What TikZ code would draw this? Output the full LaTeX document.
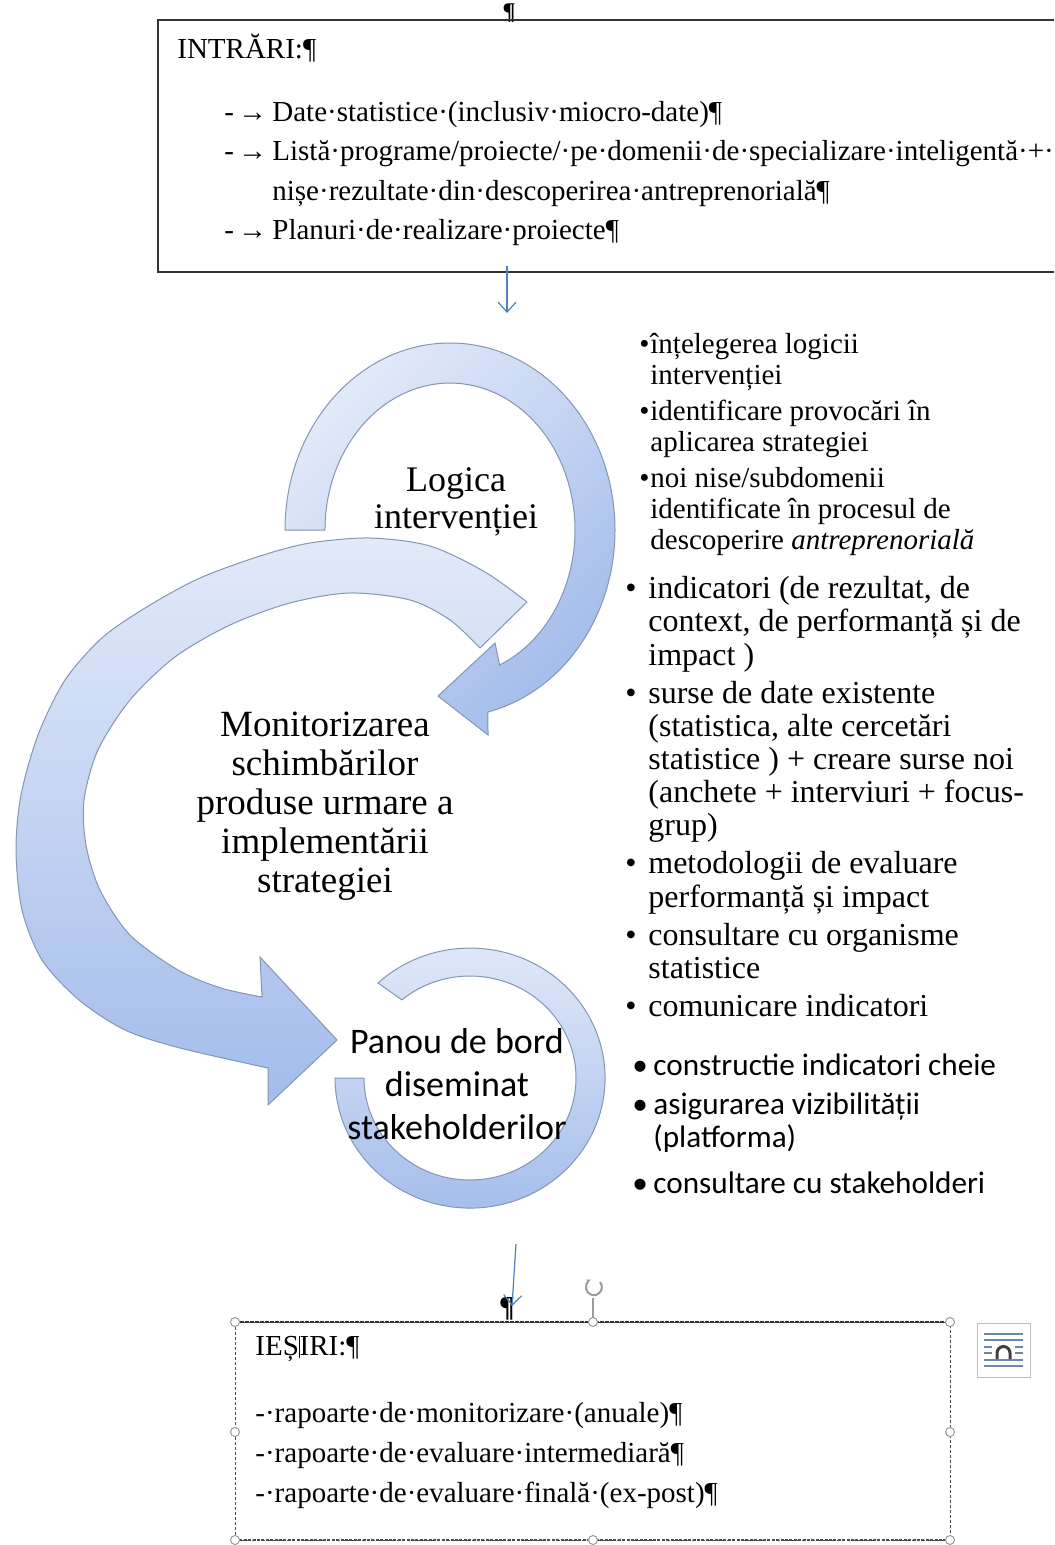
\documentclass[tikz,border=0pt]{standalone}
\usepackage{fontspec}
\setmainfont{Liberation Serif}
\newfontfamily\calibrifont{Carlito}
\usetikzlibrary{arrows.meta}
\definecolor{ringlight}{HTML}{E2EAF9}
\definecolor{ringdark}{HTML}{A3BCEB}
\definecolor{ringline}{HTML}{8595B3}
\definecolor{flowblue}{HTML}{4F81BD}
\definecolor{handlegray}{HTML}{9A9A9A}
\definecolor{iconblue}{HTML}{6A88AD}
\tikzset{
  ring/.style={draw=ringline, line width=0.5pt, top color=ringlight, bottom color=ringdark},
  flow/.style={draw=flowblue, line width=0.6pt, -{Straight Barb[length=5pt,width=9pt]}},
  handle/.style={circle, draw=handlegray, fill=white, line width=0.5pt, inner sep=0pt, minimum size=4.5pt},
  listbox/.style={anchor=north west, inner sep=0pt},
}
\begin{document}
\begin{tikzpicture}[x=0.5pt, y=-0.5pt]
    \pgfmathsetmacro{\boxleft}{158}
    \pgfmathsetmacro{\boxtop}{20}
    \pgfmathsetmacro{\boxbottom}{272}
    \providecommand{\boxfont}{\fontsize{14.5}{19.8}\selectfont}
    \providecommand{\ringfont}{\fontsize{18.5}{19.5}\selectfont}
    \providecommand{\notesfont}{\fontsize{14.5}{15.5}\selectfont}
    \providecommand{\listfont}{\fontsize{16}{16.6}\selectfont}
    \useasboundingbox (0,0) rectangle (1054,1545);
    % intrari
    \node[anchor=base, inner sep=0pt, font=\fontsize{12}{12}\selectfont\bfseries] (pilcrowtop) at (509,20) {¶};
    \draw[line width=1pt, black!80] (1054,\boxtop) -- (\boxleft,\boxtop) -- (\boxleft,\boxbottom) -- (1054,\boxbottom);
    \node[anchor=west, inner sep=0pt, font=\boxfont] (intrari) at (177,48) {INTRĂRI:¶};
    \node[listbox, font=\boxfont] (intrarilist) at (224,93) {\begin{tabular}{@{}l@{}}
        \makebox[24pt][l]{-\hspace{2pt}→}Date·statistice·(inclusiv·miocro-date)¶\\
        \makebox[24pt][l]{-\hspace{2pt}→}Listă·programe/proiecte/·pe·domenii·de·specializare·inteligentă·+·\\
        \makebox[24pt][l]{}nișe·rezultate·din·descoperirea·antreprenorială¶\\
        \makebox[24pt][l]{-\hspace{2pt}→}Planuri·de·realizare·proiecte¶
    \end{tabular}};
    \coordinate (intrariout) at (507,266);
    \coordinate (ringin) at (507,313);
    \draw[flow] (intrariout) -- (ringin);
    % monitorizare
    \draw[ring] plot[smooth] coordinates {(527,602) (485,572) (430,546) (370,538) (310,543) (260,556) (200,578) (150,605) (103,637) (65,680) (38,735) (21,795) (16,850) (22,910) (42,960) (79,1000) (125,1030) (180,1048) (268,1068)}
        -- (268,1105) -- (337,1040) -- (260,957) -- (262,997)
        -- plot[smooth] coordinates {(262,997) (221,988) (178,970) (130,935) (100,890) (86,845) (84,800) (98,750) (130,700) (175,657) (230,625) (290,603) (350,593) (410,600) (450,620) (480,648)} -- cycle;
    % logica
    \draw[ring, shading angle=45] (285,530) arc[start angle=180, end angle=436.7, x radius=165, y radius=187]
        -- (488,735) -- (438,696) -- (495,643) -- (499.6,665)
        arc[start angle=426.6, end angle=180, x radius=125, y radius=147] -- cycle;
    % panou
    \draw[ring] (378,983) arc[start angle=227, end angle=540, x radius=135, y radius=130]
        -- (364,1078) arc[start angle=540, end angle=230, x radius=106, y radius=102] -- cycle;
    \node[align=center, inner sep=0pt, font=\fontsize{18}{18.5}\selectfont] (logica) at (456,502) {Logica\\intervenției};
    \node[align=center, inner sep=0pt, font=\ringfont] (monitorizare) at (325,806) {Monitorizarea\\schimbărilor\\produse urmare a\\implementării\\strategiei};
    \node[align=center, inner sep=0pt, font=\calibrifont\fontsize{18}{21.5}\selectfont] (panou) at (457,1084) {Panou de bord\\diseminat\\stakeholderilor};
    % notes
    \node[listbox, font=\notesfont] (logicanotes) at (639,331) {\begin{tabular}{@{}p{5.5pt}@{}l@{}}
        •&înțelegerea logicii\\
        &intervenției\\[2.5pt]
        •&identificare provocări în\\
        &aplicarea strategiei\\[2.5pt]
        •&noi nise/subdomenii\\
        &identificate în procesul de\\
        &descoperire \textit{antreprenorială}
    \end{tabular}};
    \node[listbox, font=\listfont] (monitornotes) at (625,575) {\begin{tabular}{@{}p{11.5pt}@{}l@{}}
        •&indicatori (de rezultat, de\\
        &context, de performanță și de\\
        &impact )\\[2.4pt]
        •&surse de date existente\\
        &(statistica, alte cercetări\\
        &statistice ) + creare surse noi\\
        &(anchete + interviuri + focus-\\
        &grup)\\[2.4pt]
        •&metodologii de evaluare\\
        &performanță și impact\\[2.4pt]
        •&consultare cu organisme\\
        &statistice\\[2.4pt]
        •&comunicare indicatori
    \end{tabular}};
    \node[listbox, font=\calibrifont\fontsize{15.6}{16.5}\selectfont] (panounotes) at (632,1052) {\begin{tabular}{@{}p{10.5pt}@{}l@{}}
        •&constructie indicatori cheie\\[3pt]
        •&asigurarea vizibilității\\
        &(platforma)\\[6.5pt]
        •&consultare cu stakeholderi
    \end{tabular}};
    % iesiri
    \node[anchor=south, inner sep=0pt, font=\boxfont\bfseries] (pilcrowbottom) at (507,1321) {¶};
    \coordinate (panouout) at (516,1244);
    \coordinate (iesiriin) at (512,1306);
    \draw[flow] (panouout) -- (iesiriin);
    \draw[black!70, line width=0.5pt, dash pattern=on 1.5pt off 1pt] (235,1322) rectangle (950,1540);
    \draw[black!80, line width=1pt, dash pattern=on 2pt off 0.5pt] (235,1322) -- (950,1322);
    \draw[black!70, line width=0.8pt, dash pattern=on 1.5pt off 0.7pt] (235,1540) -- (950,1540);
    \draw[handlegray, line width=0.6pt] (593,1322) -- (593,1298);
    \draw[handlegray, line width=1pt, -{Stealth[length=2.5pt]}] (600,1282) arc[start angle=-40, end angle=250, radius=8];
    \foreach \hx/\hy [count=\i] in {235/1322, 593/1322, 950/1322, 235/1432, 950/1432, 235/1540, 593/1540, 950/1540}
        \node[handle] (handle\i) at (\hx,\hy) {};
    \node[anchor=west, inner sep=0pt, font=\boxfont] (iesiri) at (255,1349) {IEȘ\rule[-1pt]{0.4pt}{11pt}IRI:¶};
    \node[listbox, font=\fontsize{14.5}{20}\selectfont] (iesirilist) at (255,1394) {\begin{tabular}{@{}l@{}}
        -·rapoarte·de·monitorizare·(anuale)¶\\
        -·rapoarte·de·evaluare·intermediară¶\\
        -·rapoarte·de·evaluare·finală·(ex-post)¶
    \end{tabular}};
    % layout icon
    \draw[gray!50, fill=white, line width=0.5pt] (977,1323) rectangle (1030,1377);
    \foreach \ly in {1334,1340,1360,1366}
        \draw[iconblue, line width=0.8pt] (984,\ly) -- (1023,\ly);
    \foreach \ly in {1347,1353}
        \draw[iconblue, line width=0.8pt] (984,\ly) -- (992,\ly) (1015,\ly) -- (1023,\ly);
    \draw[black!75, line width=1.5pt] (997,1359) -- (997,1353) arc[start angle=180, end angle=360, radius=6.5] -- (1010,1359);
\end{tikzpicture}
\end{document}
